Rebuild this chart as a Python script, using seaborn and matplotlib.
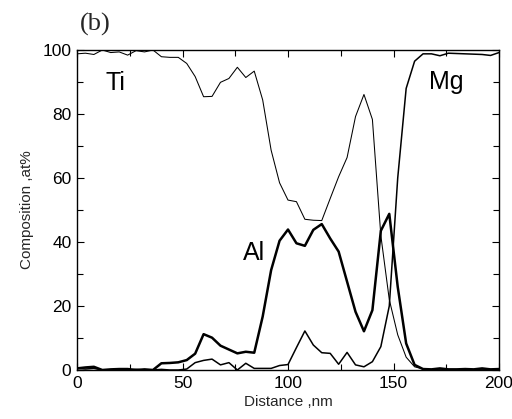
import numpy as np
import pandas as pd
import matplotlib
matplotlib.use("Agg")
import matplotlib.pyplot as plt
import seaborn as sns
from matplotlib.ticker import MultipleLocator

# ---- data ----
distance = [0, 4, 8, 12, 16, 20, 24, 28, 32, 36, 40, 44, 48, 52, 56, 60, 64, 68, 72, 76,
            80, 84, 88, 92, 96, 100, 104, 108, 112, 116, 120, 124, 128, 132, 136, 140, 144,
            148, 152, 156, 160, 164, 168, 172, 176, 180, 184, 188, 192, 196, 200]

ti = [98.8, 99.0, 98.6, 100.0, 99.2, 99.4, 98.4, 99.8, 99.4, 100.0, 97.9, 97.7, 97.7, 95.8,
      91.7, 85.4, 85.5, 89.9, 91.1, 94.6, 91.4, 93.4, 84.4, 68.7, 58.5, 53.1, 52.6, 47.1,
      46.8, 46.7, 53.6, 60.4, 66.4, 79.2, 86.1, 78.3, 42.0, 22.0, 11.0, 4.0, 1.0, 0.3,
      0.2, 0.2, 0.2, 0.2, 0.2, 0.2, 0.2, 0.2, 0.2]

al = [0.5, 0.8, 1.0, 0.0, 0.2, 0.3, 0.3, 0.0, 0.2, 0.0, 2.1, 2.2, 2.4, 3.1, 5.1, 11.2,
      10.1, 7.6, 6.4, 5.2, 5.7, 5.4, 16.7, 31.2, 40.4, 43.9, 39.6, 38.8, 43.8, 45.6, 41.1,
      37.0, 27.6, 18.2, 12.1, 18.7, 43.5, 48.8, 26.0, 8.3, 1.6, 0.3, 0.2, 0.5, 0.2, 0.2,
      0.3, 0.2, 0.5, 0.2, 0.3]

mg = [0.5, 0.3, 0.5, 0.0, 0.0, 0.2, 0.0, 0.2, 0.0, 0.0, 0.2, 0.0, 0.0, 0.3, 2.3, 3.0,
      3.4, 1.6, 2.3, 0.0, 2.1, 0.5, 0.5, 0.5, 1.4, 1.7, 7.0, 12.2, 7.8, 5.4, 5.2, 1.8, 5.5,
      1.6, 1.0, 2.6, 7.3, 20.0, 60.0, 88.0, 96.5, 98.8, 98.8, 98.2, 99.0, 98.9, 98.8,
      98.7, 98.6, 98.3, 99.2]

elements = ["Ti", "Al", "Mg"]
label_pos = {"Ti": (13.3, 89.8), "Al": (78.5, 36.5), "Mg": (167.0, 90.0)}

# ---- figure ----
sns.set_theme(style="ticks")
plt.rcParams["font.family"] = ["Liberation Sans", "DejaVu Sans"]

fig = plt.figure(figsize=(5.12, 4.19), dpi=100)
ax = fig.add_axes([77 / 512, 1 - 370 / 419, 422 / 512, 320 / 419])

df = pd.DataFrame({"Distance": distance, "Ti": ti, "Al": al, "Mg": mg})
widths = {"Ti": 0.75, "Al": 1.8, "Mg": 1.1}
for el in elements:
    sns.lineplot(data=df, x="Distance", y=el, ax=ax, color="black",
                 linewidth=widths[el], estimator=None, sort=False)

for el in elements:
    x, y = label_pos[el]
    ax.text(x, y, el, fontsize=18, va="center", ha="left", color="black")

ax.set_xlim(0, 200)
ax.set_ylim(0, 100)
ax.xaxis.set_major_locator(MultipleLocator(50))
ax.xaxis.set_minor_locator(MultipleLocator(25))
ax.yaxis.set_major_locator(MultipleLocator(20))
ax.yaxis.set_minor_locator(MultipleLocator(10))
ax.tick_params(which="both", direction="in", top=True, right=True, colors="black",
               labelsize=12.5, width=0.8)
ax.tick_params(which="major", length=5, pad=4)
ax.tick_params(which="minor", length=4)
for s in ax.spines.values():
    s.set_color("black")
    s.set_linewidth(1.0)

ax.set_xlabel("Distance ,nm", fontsize=11, labelpad=3)
ax.set_ylabel("Composition ,at%", fontsize=11, labelpad=6)

fig.text(80 / 512, 1 - 31 / 419, "(b)", fontsize=19,
         family=["Liberation Serif", "DejaVu Serif"], ha="left", va="baseline")

fig.savefig("out.png", dpi=100)
